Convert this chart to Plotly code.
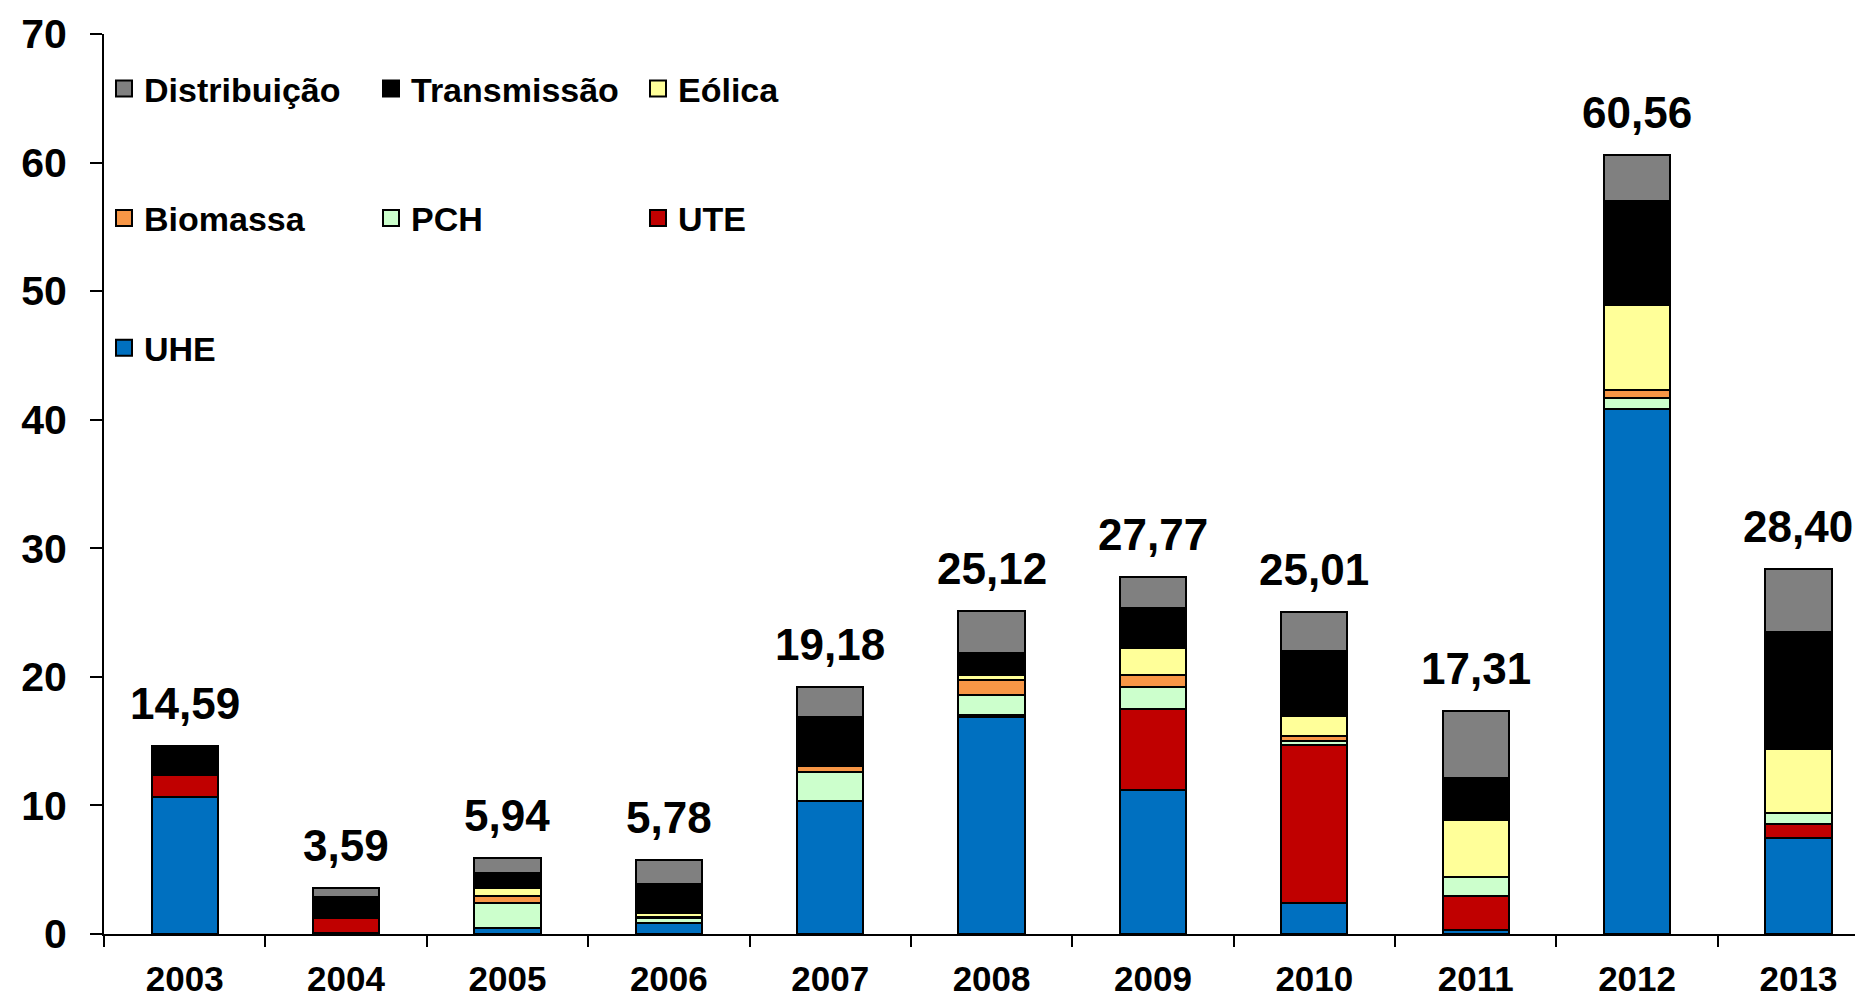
import plotly.graph_objects as go

years = ["2003", "2004", "2005", "2006", "2007", "2008", "2009", "2010", "2011", "2012", "2013"]

# stacked from bottom to top
uhe = [10.66, 0.05, 0.46, 0.85, 10.32, 16.85, 11.22, 2.38, 0.31, 40.82, 7.45]
ute = [1.67, 1.19, 0, 0, 0, 0.20, 6.29, 12.35, 2.66, 0, 1.07]
pch = [0, 0, 1.94, 0.40, 2.30, 1.52, 1.73, 0.25, 1.47, 0.88, 0.89]
biomassa = [0, 0, 0.52, 0.10, 0.43, 1.21, 0.90, 0.43, 0, 0.58, 0]
eolica = [0, 0, 0.64, 0.28, 0, 0.33, 2.08, 1.54, 4.43, 6.66, 5.01]
transmissao = [2.26, 1.60, 1.21, 2.24, 3.84, 1.73, 3.13, 5.08, 3.24, 8.07, 9.09]
distribuicao = [0, 0.75, 1.17, 1.91, 2.29, 3.28, 2.42, 2.98, 5.20, 3.55, 4.89]

series = [
    ("UHE", uhe, "#0070C0", "legend3"),
    ("UTE", ute, "#C00000", "legend2"),
    ("PCH", pch, "#CCFFCC", "legend2"),
    ("Biomassa", biomassa, "#F79646", "legend2"),
    ("Eólica", eolica, "#FFFF99", "legend"),
    ("Transmissão", transmissao, "#000000", "legend"),
    ("Distribuição", distribuicao, "#808080", "legend"),
]

FONT = "Arial, 'Liberation Sans', sans-serif"

fig = go.Figure()
for name, vals, color, leg in series:
    fig.add_trace(go.Bar(
        x=years, y=vals, name=name, legendgroup=name, showlegend=False,
        marker=dict(color=color, line=dict(color="black", width=2)),
        hoverinfo="name+y",
    ))
    # legend-only entry so the swatch can be larger than the bar default
    fig.add_trace(go.Scatter(
        x=[None], y=[None], mode="markers", name=name, legendgroup=name, legend=leg,
        marker=dict(symbol="square", size=16, color=color, line=dict(color="black", width=2)),
    ))

# totals above each bar (x given as category index)
totals = [sum(v) for v in zip(*[s[1] for s in series])]
for i, t in enumerate(totals):
    fig.add_annotation(
        x=i, y=t, xref="x", yref="y", text=f"{t:.2f}".replace(".", ","),
        showarrow=False, yanchor="bottom", yshift=16,
        font=dict(family=FONT, size=44, color="black", weight="bold"),
    )

legend_common = dict(
    orientation="h", x=0.0, xanchor="left", yanchor="middle",
    traceorder="reversed", entrywidth=222, entrywidthmode="pixels",
    font=dict(family=FONT, size=34, color="black", weight="bold"),
    bgcolor="rgba(0,0,0,0)",
)

# page body adds an 8px offset, so the figure is 8px smaller than the window
fig.update_layout(
    width=1855, height=989,
    barmode="stack", bargap=0.59,
    plot_bgcolor="white", paper_bgcolor="white",
    margin=dict(l=96, r=0, t=26, b=63),
    font=dict(family=FONT, color="black"),
    legend=dict(y=0.939, **legend_common),
    legend2=dict(y=0.795, **legend_common),
    legend3=dict(y=0.651, **legend_common),
    xaxis=dict(
        type="category", range=[-0.5, 10.4], automargin=False,
        showline=True, linecolor="black", linewidth=2,
        ticks="outside", tickson="boundaries", ticklen=11, tickwidth=2, tickcolor="black",
        showgrid=False,
        tickfont=dict(family=FONT, size=35, color="black", weight="bold"),
        ticklabelstandoff=13, ticklabeloverflow="allow",
    ),
    yaxis=dict(
        range=[0, 70], dtick=10, automargin=False,
        showline=True, linecolor="black", linewidth=2,
        ticks="outside", ticklen=12, tickwidth=2, tickcolor="black",
        showgrid=False, zeroline=False,
        tickfont=dict(family=FONT, size=41, color="black", weight="bold"),
        ticklabelstandoff=15, ticklabeloverflow="allow",
    ),
)

fig.write_html("out.html")
